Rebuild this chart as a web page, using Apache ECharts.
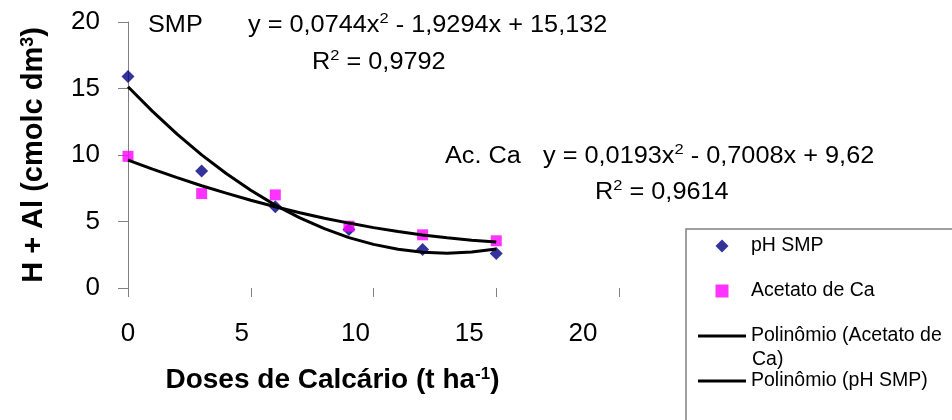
<!DOCTYPE html>
<html>
<head>
<meta charset="utf-8">
<script src="https://cdn.jsdelivr.net/npm/echarts@6/dist/echarts.min.js"></script>
<style>html,body{margin:0;padding:0;background:#fff}#c{width:952px;height:420px}</style>
</head>
<body>
<div id="c"></div>
<script>
// ---- data ----
const doses = [0, 3, 6, 9, 12, 15];
const phSmp = [15.9, 8.8, 6.1, 4.4, 2.9, 2.6];
const acetatoCa = [9.9, 7.1, 7.0, 4.65, 4.0, 3.55];
const trendDoses = [0, 1, 2, 3, 4, 5, 6, 7, 8, 9, 10, 11, 12, 13, 14, 15];
const trendSmp = [15.13, 13.28, 11.57, 10.01, 8.61, 7.35, 6.23, 5.27, 4.46, 3.79, 3.28, 2.91, 2.69, 2.62, 2.70, 2.93];
const trendAcetato = [9.62, 8.94, 8.30, 7.69, 7.13, 6.60, 6.11, 5.66, 5.25, 4.88, 4.54, 4.25, 3.99, 3.77, 3.59, 3.45];
const xTickLabels = ['0', '5', '10', '15', '20'];
const yTickLabels = ['0', '5', '10', '15', '20'];
const seriesNames = ['pH SMP', 'Acetato de Ca', 'Polinômio (Acetato de', 'Polinômio (pH SMP)'];

const FONT = '"Liberation Sans", Arial, sans-serif';
const pair = (xs, ys) => xs.map((x, i) => [x, ys[i]]);

const chart = echarts.init(document.getElementById('c'), null, {renderer: 'canvas'});
const annot = (txt, x, y) => ({
  type: 'text', x: x, y: y, scaleX: 1.1, z: 100,
  style: {
    text: txt, fill: '#000', align: 'left', verticalAlign: 'middle',
    font: '23px ' + FONT, lineHeight: 30,
    rich: {sup: {fontSize: 15, fontFamily: FONT, fill: '#000', verticalAlign: 'top', lineHeight: 15}}
  }
});
const LINE_ICON = 'path://M0,0L48,0L48,3L0,3Z';
const DIAMOND_ICON = 'path://M6,0L12,6L6,12L0,6Z';
const SQUARE_ICON = 'path://M0,0L11,0L11,11L0,11Z';

chart.setOption({
  backgroundColor: '#fff',
  animation: false,
  grid: {left: 128, right: 333, top: 22, bottom: 132, containLabel: false},
  xAxis: [{
    type: 'value', min: 0, max: 20, interval: 5,
    axisLine: {show: false},
    axisTick: {show: true, inside: false, length: 9, lineStyle: {color: '#808080', width: 1}},
    axisLabel: {show: false},
    splitLine: {show: false},
    name: 'Doses de Calcário (t ha{sup|-1})',
    nameLocation: 'middle', nameGap: 78,
    nameTextStyle: {
      fontFamily: FONT, fontSize: 28, fontWeight: 'bold', color: '#000', padding: [0, 82, 0, 0],
      rich: {sup: {fontFamily: FONT, fontSize: 17, fontWeight: 'bold', color: '#000', verticalAlign: 'top', lineHeight: 17}}
    }
  }, {
    type: 'value', min: 0, max: 21.58, interval: 5, position: 'bottom',
    axisLine: {show: false}, axisTick: {show: false}, splitLine: {show: false},
    axisLabel: {
      show: true, margin: 33, fontFamily: FONT, fontSize: 26, color: '#000', showMaxLabel: false,
      formatter: (v) => xTickLabels[Math.round(v / 5)] ?? ''
    }
  }],
  yAxis: {
    type: 'value', min: 0, max: 20, interval: 5,
    axisLine: {show: true, lineStyle: {color: '#808080', width: 1}},
    axisTick: {show: true, inside: false, length: 10, lineStyle: {color: '#808080', width: 1}},
    axisLabel: {
      margin: 28, fontFamily: FONT, fontSize: 26, color: '#000',
      formatter: (v) => yTickLabels[Math.round(v / 5)]
    },
    splitLine: {show: false},
    name: 'H + Al (cmolc dm{sup|3})',
    nameLocation: 'middle', nameRotate: 90, nameGap: 80,
    nameTextStyle: {
      fontFamily: FONT, fontSize: 29, fontWeight: 'bold', color: '#000',
      rich: {sup: {fontFamily: FONT, fontSize: 18, fontWeight: 'bold', color: '#000', verticalAlign: 'top', lineHeight: 18}}
    }
  },
  legend: {
    orient: 'vertical', left: 686, top: 229, height: 300,
    padding: [7, 400, 60, 12],
    itemWidth: 48, itemHeight: 13, itemGap: 25,
    borderColor: '#808080', borderWidth: 1.5, backgroundColor: '#fff',
    textStyle: {fontFamily: FONT, fontSize: 19.5, color: '#000', lineHeight: 12},
    data: [
      {name: seriesNames[0], icon: DIAMOND_ICON, itemStyle: {color: '#000080'}},
      {name: seriesNames[1], icon: SQUARE_ICON, itemStyle: {color: '#ff00ff'}},
      {name: seriesNames[2], icon: LINE_ICON, itemStyle: {color: '#000'}},
      {name: seriesNames[3], icon: LINE_ICON, itemStyle: {color: '#000'}}
    ]
  },
  graphic: [
    annot('SMP', 148, 26),
    annot('y = 0,0744x{sup|2} - 1,9294x + 15,132', 248, 26),
    annot('R{sup|2} = 0,9792', 312, 63),
    annot('Ac. Ca', 445, 157),
    annot('y = 0,0193x{sup|2} - 0,7008x + 9,62', 543, 157),
    annot('R{sup|2} = 0,9614', 595, 193),
    {type: 'text', x: 752, y: 360, z: 100,
     style: {text: 'Ca)', fill: '#000', align: 'left', verticalAlign: 'middle', font: '19.5px ' + FONT}}
  ],
  series: [
    {name: seriesNames[0], type: 'scatter', xAxisIndex: 0, symbol: 'diamond', symbolSize: 13,
     itemStyle: {color: '#000080'}, z: 2, data: pair(doses, phSmp)},
    {name: seriesNames[1], type: 'scatter', xAxisIndex: 0, symbol: 'rect', symbolSize: 11,
     itemStyle: {color: '#ff00ff'}, z: 3, data: pair(doses, acetatoCa)},
    {name: seriesNames[2], type: 'line', xAxisIndex: 0, symbol: 'none', smooth: false,
     lineStyle: {color: '#000', width: 3}, itemStyle: {color: '#000'}, z: 4, data: pair(trendDoses, trendAcetato)},
    {name: seriesNames[3], type: 'line', xAxisIndex: 0, symbol: 'none', smooth: false,
     lineStyle: {color: '#000', width: 3}, itemStyle: {color: '#000'}, z: 4, data: pair(trendDoses, trendSmp)}
  ]
});
</script>
</body>
</html>
